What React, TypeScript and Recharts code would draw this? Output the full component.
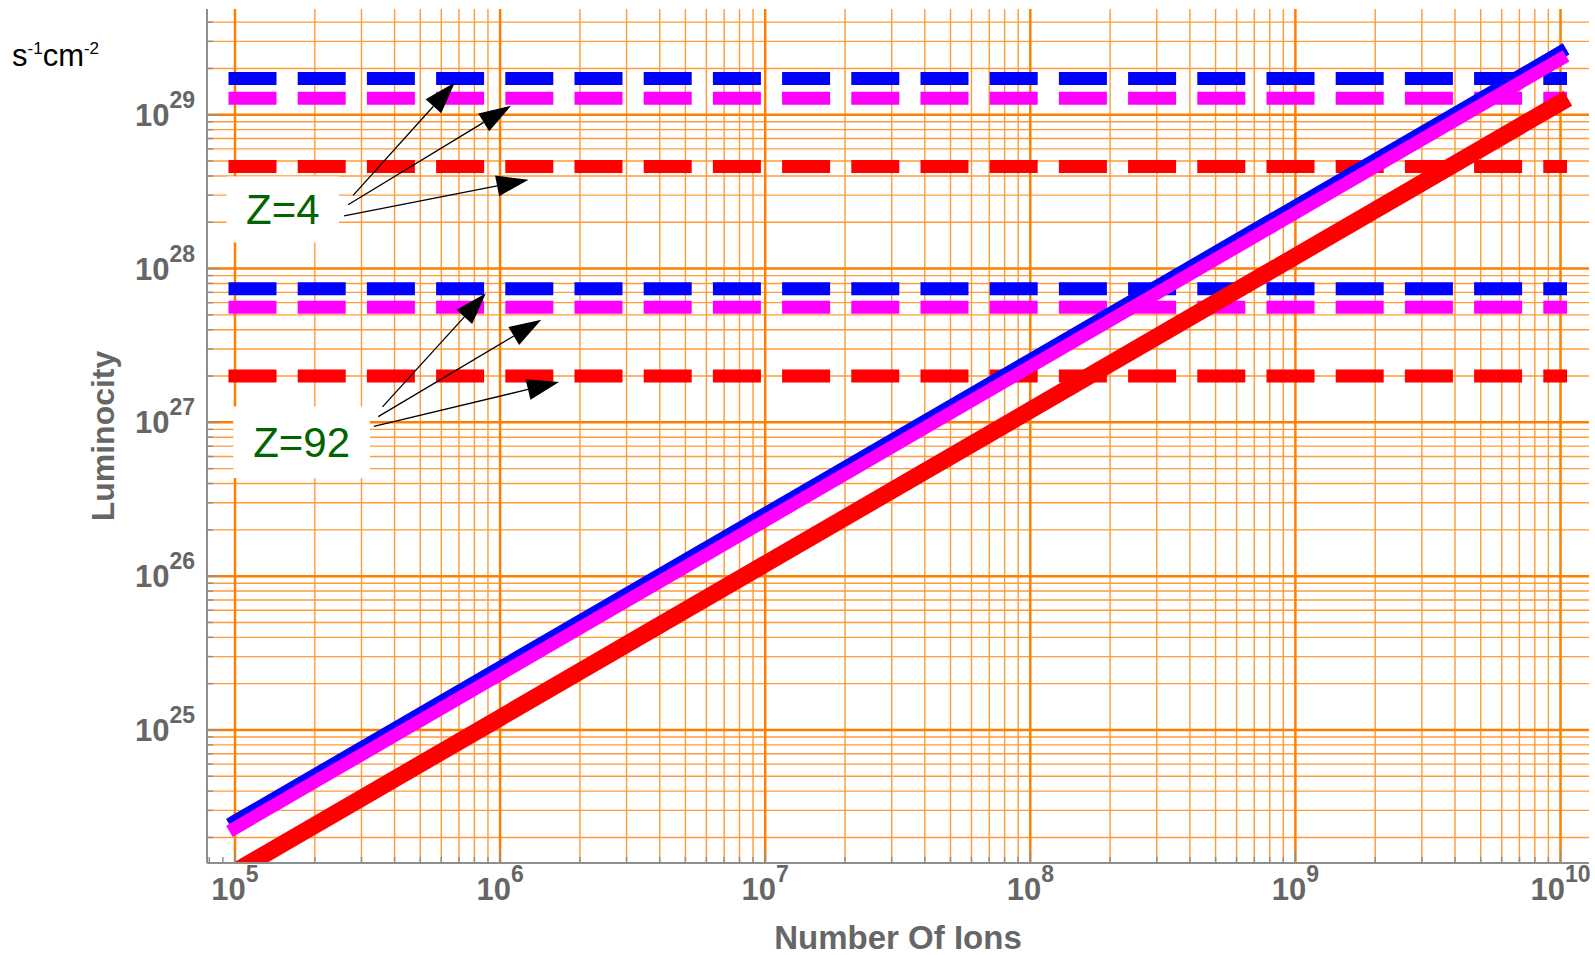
import {
  LineChart,
  Line,
  XAxis,
  YAxis,
  CartesianGrid,
  ReferenceArea,
  ReferenceLine,
  Label,
} from "recharts";

const FONT = '"Liberation Sans", Arial, Helvetica, sans-serif';

// number of ions (x) and luminosity of the three solid lines
const ions = [1e5, 1e6, 1e7, 1e8, 1e9, 1e10];
const lumBlue = [2.55e24, 2.55e25, 2.55e26, 2.55e27, 2.55e28, 2.55e29];
const lumMagenta = [2.3e24, 2.3e25, 2.3e26, 2.3e27, 2.3e28, 2.3e29];
const lumRed = [1.2e24, 1.2e25, 1.2e26, 1.2e27, 1.2e28, 1.2e29];

// dashed levels: blue, magenta, red
const levelsZ4 = [1.72e29, 1.28e29, 4.6e28];
const levelsZ92 = [7.4e27, 5.6e27, 2.0e27];
const colors = ["#0000ff", "#ff00ff", "#ff0000"];

// annotation boxes [x1, x2, y1, y2] and arrows [[from], [to]]
const z4Box = [9.3e4, 2.47e5, 1.476e28, 3.97e28];
const z92Box = [9.85e4, 3.23e5, 4.35e26, 1.27e27];
const z4Arrows = [
  [[2.79e5, 2.99e28], [6.75e5, 1.62e29]],
  [[2.67e5, 2.6e28], [1.1e6, 1.144e29]],
  [[2.58e5, 2.2e28], [1.28e6, 3.78e28]],
];
const z92Arrows = [
  [[3.6e5, 1.26e27], [8.84e5, 6.92e27]],
  [[3.47e5, 1.09e27], [1.43e6, 4.65e27]],
  [[3.34e5, 9.4e26], [1.67e6, 1.83e27]],
];

const xDomain = [Math.pow(10, 4.8944), Math.pow(10, 10.1075)];
const yDomain = [Math.pow(10, 24.135), Math.pow(10, 29.6875)];

const xMajor = [1e5, 1e6, 1e7, 1e8, 1e9, 1e10];
const yMajor = [1e25, 1e26, 1e27, 1e28, 1e29];

function minors(decades: number[], lo: number, hi: number) {
  const out: number[] = [];
  decades.forEach((d) => {
    for (let k = 2; k <= 9; k++) {
      const v = k * d;
      if (v >= lo && v <= hi) out.push(v);
    }
  });
  return out;
}

const xMinorTicks = minors([1e4, 1e5, 1e6, 1e7, 1e8, 1e9], xDomain[0], xDomain[1]);
const xMinorGrid = minors([1e5, 1e6, 1e7, 1e8, 1e9], 1e5, 1e10);
const yMinor = minors([1e24, 1e25, 1e26, 1e27, 1e28, 1e29], yDomain[0], yDomain[1]);
const xTicks = [...xMinorTicks, ...xMajor].sort((a, b) => a - b);
const yTicks = [...yMinor, ...yMajor].sort((a, b) => a - b);

const data = ions.map((n, i) => ({
  n,
  blue: lumBlue[i],
  magenta: lumMagenta[i],
  red: lumRed[i],
  z4b: levelsZ4[0],
  z4m: levelsZ4[1],
  z4r: levelsZ4[2],
  z92b: levelsZ92[0],
  z92m: levelsZ92[1],
  z92r: levelsZ92[2],
}));

const isMajor = (v: number) => {
  const e = Math.log10(v);
  return Math.abs(e - Math.round(e)) < 1e-6;
};

const TICK = "#8f8f8f";
const LABEL = "#666666";

function Pow({ v, ...rest }: any) {
  return (
    <text fill={LABEL} fontFamily={FONT} fontWeight="bold" fontSize={31} {...rest}>
      10
      <tspan dy={-18} fontSize={23}>
        {Math.round(Math.log10(v))}
      </tspan>
    </text>
  );
}

function XTick(props: any) {
  const { x, y, payload, side } = props;
  const major = isMajor(payload.value);
  const len = major ? 12 : 6;
  const dir = side === "top" ? 1 : -1;
  return (
    <g>
      <line x1={x} x2={x} y1={y} y2={y + dir * len} stroke={TICK} strokeWidth={1.5} />
      {side === "bottom" && major && (
        <Pow v={payload.value} x={x} y={y + 37} textAnchor="middle" />
      )}
    </g>
  );
}

function YTick(props: any) {
  const { x, y, payload, side } = props;
  const major = isMajor(payload.value);
  const len = major ? 12 : 6;
  const dir = side === "right" ? -1 : 1;
  return (
    <g>
      <line x1={x} x2={x + dir * len} y1={y} y2={y} stroke={TICK} strokeWidth={1.5} />
      {side === "left" && major && (
        <Pow v={payload.value} x={x - 12} y={y + 11} textAnchor="end" />
      )}
    </g>
  );
}

function Arrow(props: any) {
  const { x1, y1, x2, y2 } = props;
  const dx = x2 - x1;
  const dy = y2 - y1;
  const len = Math.hypot(dx, dy) || 1;
  const ux = dx / len;
  const uy = dy / len;
  const hl = 32;
  const hw = 10.5;
  const bx = x2 - ux * hl;
  const by = y2 - uy * hl;
  return (
    <g>
      <line x1={x1} y1={y1} x2={bx} y2={by} stroke="#000" strokeWidth={1.3} />
      <polygon
        points={`${x2},${y2} ${bx - uy * hw},${by + ux * hw} ${bx + uy * hw},${by - ux * hw}`}
        fill="#000"
      />
    </g>
  );
}

const dashKeys = ["z4b", "z4m", "z4r", "z92b", "z92m", "z92r"];

export default function App() {
  return (
    <div style={{ position: "absolute", left: 0, top: 0, width: 1595, height: 955, background: "#fff" }}>
      <LineChart
        width={1595}
        height={955}
        data={data}
        margin={{ top: 9, right: 6, bottom: 0, left: 0 }}
      >
        <CartesianGrid
          fill="none"
          stroke="#ff9b38"
          strokeWidth={1.4}
          horizontalValues={yMinor}
          verticalValues={xMinorGrid}
        />
        <CartesianGrid
          fill="none"
          stroke="#ff8000"
          strokeWidth={2.5}
          horizontalValues={yMajor}
          verticalValues={xMajor}
        />
        <XAxis
          dataKey="n"
          type="number"
          scale="log"
          domain={xDomain}
          allowDataOverflow
          ticks={xTicks}
          interval={0}
          height={92}
          tickSize={0}
          tickMargin={0}
          tickLine={false}
          axisLine={{ stroke: TICK, strokeWidth: 2 }}
          tick={(p: any) => <XTick {...p} side="bottom" />}
          label={{
            content: (p: any) => {
              const vb = p.viewBox;
              return (
                <text
                  x={vb.x + vb.width / 2}
                  y={vb.y + 86}
                  textAnchor="middle"
                  fill={LABEL}
                  fontFamily={FONT}
                  fontWeight="bold"
                  fontSize={33}
                >
                  Number Of Ions
                </text>
              );
            },
          }}
        />
        <XAxis
          xAxisId="top"
          orientation="top"
          dataKey="n"
          type="number"
          scale="log"
          domain={xDomain}
          allowDataOverflow
          ticks={xTicks}
          interval={0}
          height={0}
          tickSize={0}
          tickMargin={0}
          tickLine={false}
          axisLine={{ stroke: TICK, strokeWidth: 2 }}
          tick={(p: any) => <XTick {...p} side="top" />}
        />
        <YAxis
          type="number"
          scale="log"
          domain={yDomain}
          allowDataOverflow
          ticks={yTicks}
          interval={0}
          width={207}
          tickSize={0}
          tickMargin={0}
          tickLine={false}
          axisLine={{ stroke: TICK, strokeWidth: 2 }}
          tick={(p: any) => <YTick {...p} side="left" />}
          label={{
            content: (p: any) => {
              const vb = p.viewBox;
              const cx = vb.x + 114;
              const cy = vb.y + vb.height / 2;
              return (
                <text
                  x={cx}
                  y={cy}
                  transform={`rotate(-90 ${cx} ${cy})`}
                  textAnchor="middle"
                  fill={LABEL}
                  fontFamily={FONT}
                  fontWeight="bold"
                  fontSize={32}
                >
                  Luminocity
                </text>
              );
            },
          }}
        />
        <YAxis
          yAxisId="right"
          orientation="right"
          type="number"
          scale="log"
          domain={yDomain}
          allowDataOverflow
          ticks={yTicks}
          interval={0}
          width={0}
          tickSize={0}
          tickMargin={0}
          tickLine={false}
          axisLine={{ stroke: TICK, strokeWidth: 2 }}
          tick={(p: any) => <YTick {...p} side="right" />}
        />

        <ReferenceArea
          x1={z4Box[0]}
          x2={z4Box[1]}
          y1={z4Box[2]}
          y2={z4Box[3]}
          fill="#fff"
          fillOpacity={1}
          stroke="none"
        >
          <Label value="Z=4" position="center" fill="#006400" fontSize={42} fontFamily={FONT} />
        </ReferenceArea>
        <ReferenceArea
          x1={z92Box[0]}
          x2={z92Box[1]}
          y1={z92Box[2]}
          y2={z92Box[3]}
          fill="#fff"
          fillOpacity={1}
          stroke="none"
        >
          <Label value="Z=92" position="center" fill="#006400" fontSize={42} fontFamily={FONT} />
        </ReferenceArea>

        {dashKeys.map((k, i) => (
          <Line
            key={k}
            dataKey={k}
            type="linear"
            stroke={colors[i % 3]}
            strokeWidth={13}
            strokeDasharray="35 34.2"
            strokeLinecap="square"
            dot={false}
            activeDot={false}
            isAnimationActive={false}
          />
        ))}
        <Line dataKey="blue" type="linear" stroke={colors[0]} strokeWidth={13} strokeLinecap="square" dot={false} activeDot={false} isAnimationActive={false} />
        <Line dataKey="magenta" type="linear" stroke={colors[1]} strokeWidth={13} strokeLinecap="square" dot={false} activeDot={false} isAnimationActive={false} />
        <Line dataKey="red" type="linear" stroke={colors[2]} strokeWidth={17} strokeLinecap="square" dot={false} activeDot={false} isAnimationActive={false} />

        {[...z4Arrows, ...z92Arrows].map((a, i) => (
          <ReferenceLine
            key={"arrow" + i}
            segment={[
              { x: a[0][0], y: a[0][1] },
              { x: a[1][0], y: a[1][1] },
            ]}
            shape={(p: any) => <Arrow {...p} />}
          />
        ))}
      </LineChart>
      <svg
        width={200}
        height={100}
        style={{ position: "absolute", left: 0, top: 0, pointerEvents: "none" }}
      >
        <text x={12} y={66} fontFamily={FONT} fontSize={31} fill="#000">
          s
          <tspan dy={-12} fontSize={17}>-1</tspan>
          <tspan dy={12}>cm</tspan>
          <tspan dy={-12} fontSize={17}>-2</tspan>
        </text>
      </svg>
    </div>
  );
}
